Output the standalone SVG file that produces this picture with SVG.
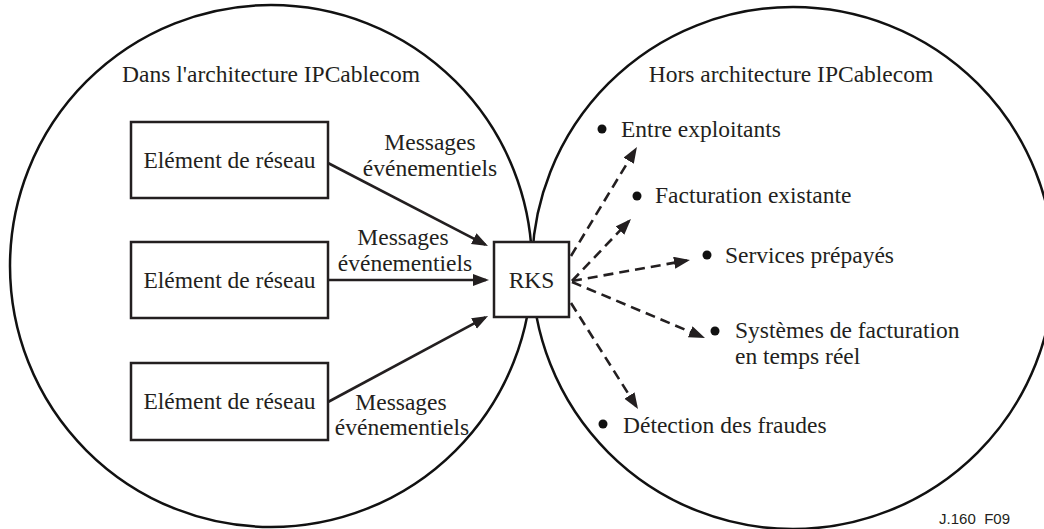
<svg xmlns="http://www.w3.org/2000/svg" width="1044" height="529" viewBox="0 0 1044 529">
<defs>
<style>
.t{font-family:"Liberation Serif","Times New Roman",serif;font-size:23.5px;fill:#231f20}
.m{text-anchor:middle}
.box{fill:#fff;stroke:#231f20;stroke-width:2.5}
.ring{fill:none;stroke:#111;stroke-width:2.5}
.arr{fill:none;stroke:#231f20;stroke-width:2.6}
.dash{fill:none;stroke:#231f20;stroke-width:2.6;stroke-dasharray:10 6}
.dot{fill:#111}
</style>
<marker id="ah" markerUnits="userSpaceOnUse" markerWidth="17" markerHeight="13" refX="13" refY="6" orient="auto">
<path d="M0,0 L16,6 L0,12 z" fill="#231f20"/>
</marker>
</defs>
<rect width="1044" height="529" fill="#fff"/>
<g id="domains">
<circle class="ring" cx="271" cy="266" r="261"/>
<circle class="ring" cx="793" cy="268" r="261"/>
<text class="t m" x="271" y="82">Dans l'architecture IPCablecom</text>
<text class="t m" x="791" y="82">Hors architecture IPCablecom</text>
</g>
<g id="connectors">
<line class="arr" x1="328" y1="163" x2="485.3" y2="244.6" marker-end="url(#ah)"/>
<line class="arr" x1="328" y1="280" x2="486" y2="280" marker-end="url(#ah)"/>
<line class="arr" x1="328" y1="402" x2="485.4" y2="317.4" marker-end="url(#ah)"/>
<line class="dash" x1="571" y1="256" x2="635.4" y2="149.6" marker-end="url(#ah)"/>
<line class="dash" x1="572" y1="281" x2="628.9" y2="221.2" marker-end="url(#ah)"/>
<line class="dash" x1="572" y1="281" x2="687" y2="260.5" marker-end="url(#ah)"/>
<line class="dash" x1="572" y1="282" x2="702.2" y2="336.8" marker-end="url(#ah)"/>
<line class="dash" x1="571" y1="303" x2="636.4" y2="406.5" marker-end="url(#ah)"/>
<text class="t m" x="430" y="150">Messages</text>
<text class="t m" x="430" y="176">événementiels</text>
<text class="t m" x="403" y="245">Messages</text>
<text class="t m" x="405" y="271">événementiels</text>
<text class="t m" x="401" y="410">Messages</text>
<text class="t m" x="402" y="435">événementiels</text>
</g>
<g id="ne1">
<rect class="box" x="131" y="122" width="197" height="76"/>
<text class="t m" x="229.5" y="168">Elément de réseau</text>
</g>
<g id="ne2">
<rect class="box" x="131" y="242" width="197" height="76"/>
<text class="t m" x="229.5" y="288">Elément de réseau</text>
</g>
<g id="ne3">
<rect class="box" x="131" y="363" width="197" height="77"/>
<text class="t m" x="229.5" y="409">Elément de réseau</text>
</g>
<g id="rks">
<rect class="box" x="494" y="242" width="75" height="75"/>
<text class="t m" x="531.5" y="288">RKS</text>
</g>
<g id="item1">
<circle class="dot" cx="602" cy="129" r="4.5"/>
<text class="t" x="621" y="137">Entre exploitants</text>
</g>
<g id="item2">
<circle class="dot" cx="637" cy="196" r="4.5"/>
<text class="t" x="655" y="203">Facturation existante</text>
</g>
<g id="item3">
<circle class="dot" cx="707" cy="255" r="4.5"/>
<text class="t" x="725" y="263">Services prépayés</text>
</g>
<g id="item4">
<circle class="dot" cx="715" cy="331" r="4.5"/>
<text class="t" x="735" y="338">Systèmes de facturation</text>
<text class="t" x="735" y="364">en temps réel</text>
</g>
<g id="item5">
<circle class="dot" cx="603" cy="424" r="4.5"/>
<text class="t" x="623" y="433">Détection des fraudes</text>
</g>
<text x="1010" y="524" text-anchor="end" xml:space="preserve" style="font-family:'Liberation Sans',Arial,sans-serif;font-size:15px;fill:#231f20;white-space:pre">J.160  F09</text>
</svg>
